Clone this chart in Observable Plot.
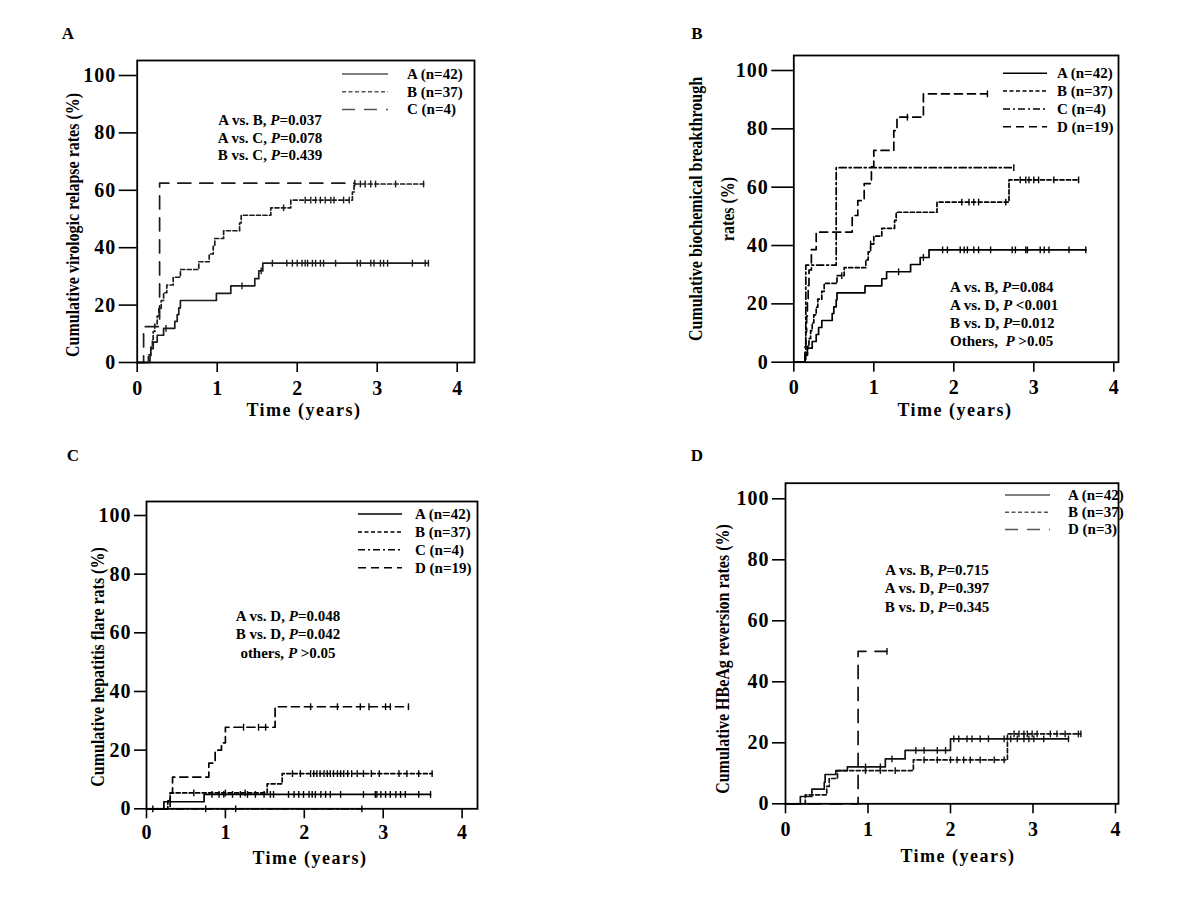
<!DOCTYPE html>
<html><head><meta charset="utf-8">
<script src="https://cdn.jsdelivr.net/npm/d3@7"></script>
<script src="https://cdn.jsdelivr.net/npm/@observablehq/plot@0.6"></script>
<style>
body{margin:0;background:#fff;}
#root{position:relative;width:1200px;height:900px;overflow:hidden;background:#fff;}
#root svg{position:absolute;overflow:visible;}
</style></head><body><div id="root"></div>
<script>
// ---------- shared tick values ----------
const yTicks = [0, 20, 40, 60, 80, 100];
const xTicks = [0, 1, 2, 3, 4];
const xTitle = "Time (years)";

// ---------- Panel A: virologic relapse ----------
const vrTag = "A";
const vrYLabel = ["Cumulative virologic relapse rates (%)"];
const vrNames = ["A (n=42)", "B (n=37)", "C (n=4)"];
const vrA = [[0.16,2.4],[0.17,4.8],[0.2,7.1],[0.25,9.5],[0.33,11.9],[0.47,14.3],[0.5,16.7],[0.52,19.0],[0.54,21.6],[0.99,24.1],[1.17,26.7],[1.47,29.2],[1.52,31.9],[1.57,34.6]];
const vrAcens = [0.36,1.31,1.55,1.69,1.87,1.94,2.0,2.06,2.1,2.13,2.19,2.23,2.29,2.33,2.48,2.75,2.79,2.92,2.96,3.04,3.08,3.13,3.44,3.6,3.64];
const vrB = [[0.14,2.7],[0.17,5.4],[0.19,8.1],[0.2,10.8],[0.22,13.5],[0.25,16.2],[0.27,18.9],[0.3,21.6],[0.33,24.3],[0.37,27.0],[0.45,29.7],[0.54,32.4],[0.77,35.1],[0.9,37.8],[0.95,40.5],[0.97,43.2],[1.08,45.9],[1.28,48.6],[1.3,51.3],[1.67,53.9],[1.92,56.6],[2.69,59.4],[2.71,62.2]];
const vrBcens = [1.83,2.1,2.17,2.23,2.29,2.35,2.42,2.46,2.58,2.65,2.79,2.85,2.92,2.98,3.23,3.58];
const vrC = [[0.08,12.5],[0.28,62.5]];
const vrCcens = [2.72];
const vrNotes = ["A vs. B, P=0.037", "A vs. C, P=0.078", "B vs. C, P=0.439"];

// ---------- Panel B: biochemical breakthrough ----------
const bbTag = "B";
const bbYLabel = ["Cumulative biochemical breakthrough", "rates (%)"];
const bbNames = ["A (n=42)", "B (n=37)", "C (n=4)", "D (n=19)"];
const bbA = [[0.14,2.4],[0.17,4.8],[0.23,7.1],[0.28,9.5],[0.31,11.9],[0.35,14.3],[0.48,16.7],[0.5,19.0],[0.53,21.4],[0.54,23.8],[0.89,26.2],[1.1,28.6],[1.16,31.0],[1.46,33.5],[1.58,35.9],[1.69,38.5]];
const bbAcens = [1.31,1.62,1.86,1.92,2.08,2.13,2.17,2.25,2.31,2.46,2.73,2.77,2.9,2.92,3.08,3.13,3.19,3.44,3.65];
const bbB = [[0.14,2.7],[0.17,5.4],[0.19,8.1],[0.21,10.8],[0.23,13.5],[0.25,16.2],[0.28,18.9],[0.3,21.6],[0.35,24.3],[0.38,27.0],[0.54,29.7],[0.63,32.4],[0.9,35.1],[0.93,37.8],[0.96,40.5],[1.0,43.2],[1.1,45.9],[1.26,48.6],[1.28,51.4],[1.79,54.9],[2.69,62.5]];
const bbBcens = [0.6,0.96,2.1,2.19,2.25,2.31,2.65,2.83,2.9,2.94,3.0,3.06,3.25,3.56];
const bbC = [[0.15,33.3],[0.53,66.7]];
const bbCcens = [2.75];
const bbD = [[0.14,5.3],[0.15,10.5],[0.16,15.8],[0.17,21.1],[0.18,26.3],[0.19,31.6],[0.22,38.6],[0.28,44.6],[0.73,50.3],[0.8,55.4],[0.88,61.2],[0.97,67.0],[1.0,72.6],[1.25,79.4],[1.29,84.0],[1.62,92.0]];
const bbDcens = [1.42,2.42];
const bbNotes = ["A vs. B, P=0.084", "A vs. D, P <0.001", "B vs. D, P=0.012", "Others,  P >0.05"];

// ---------- Panel C: hepatitis flare ----------
const hfTag = "C";
const hfYLabel = ["Cumulative hepatitis flare rats (%)"];
const hfNames = ["A (n=42)", "B (n=37)", "C (n=4)", "D (n=19)"];
const hfA = [[0.22,2.4],[0.73,4.9]];
const hfAcens = [0.83,0.92,0.98,1.09,1.19,1.28,1.38,1.49,1.57,1.61,1.8,1.87,1.93,1.99,2.06,2.1,2.14,2.21,2.27,2.33,2.46,2.75,2.9,2.92,2.97,3.03,3.09,3.16,3.22,3.28,3.45,3.6];
const hfB = [[0.27,2.7],[0.3,5.4],[1.53,8.5],[1.72,12.0]];
const hfBcens = [0.6,1.0,1.25,1.85,1.95,2.08,2.12,2.16,2.2,2.25,2.29,2.33,2.37,2.42,2.46,2.5,2.55,2.6,2.67,2.75,2.85,2.95,3.2,3.3,3.45,3.62];
const hfC = [];
const hfCcens = [0.08,0.75,1.13,2.73];
const hfD = [[0.3,5.3],[0.33,10.8],[0.79,15.6],[0.87,20.0],[0.95,22.5],[1.0,27.8],[1.63,34.8]];
const hfDcens = [1.23,1.42,1.51,2.08,2.42,2.71,2.82,3.03,3.09,3.32];
const hfNotes = ["A vs. D, P=0.048", "B vs. D, P=0.042", "others, P >0.05"];

// ---------- Panel D: HBeAg reversion ----------
const hrTag = "D";
const hrYLabel = ["Cumulative HBeAg reversion rates (%)"];
const hrNames = ["A (n=42)", "B (n=37)", "D (n=3)"];
const hrA = [[0.18,2.4],[0.32,4.8],[0.47,7.1],[0.48,9.6],[0.61,10.9],[0.75,12.1],[1.21,14.7],[1.45,17.5],[2.0,21.3]];
const hrAcens = [0.97,1.15,1.29,1.58,1.68,1.84,1.94,2.04,2.1,2.2,2.26,2.36,2.46,2.65,2.73,2.81,2.89,2.95,3.01,3.13,3.43];
const hrB = [[0.24,2.9],[0.5,5.7],[0.53,8.3],[0.63,10.9],[1.55,14.4],[2.69,22.9]];
const hrBcens = [0.97,1.15,1.33,1.68,1.84,2.0,2.08,2.16,2.24,2.36,2.53,2.65,2.77,2.83,2.89,2.93,2.99,3.05,3.21,3.29,3.39,3.55,3.58];
const hrD = [[0.88,50.0]];
const hrDcens = [1.23];
const hrNotes = ["A vs. B, P=0.715", "A vs. D, P=0.397", "B vs. D, P=0.345"];

// ---------- styles ----------
const SOLID = null, SHORT = "4,2.5", DASHDOT = "7,3,2,3", MED = "8,5", LONG = "13,9";
const FONT = "'Liberation Serif','Times New Roman',serif";

const panels = [
  {ox:0, oy:0, L:136.7, R:474, T:60, B:362, pxX:80, pxY:2.87, ytick:18, xpad:8,
   tag:vrTag, tagPos:[68,33], ylab:vrYLabel, ylabX:[72], ylabY:225, xlabPos:[304,410],
   color:"#1c1c1c", legColor:"#555",
   series:[{name:vrNames[0],ev:vrA,cs:vrAcens,dash:SOLID},{name:vrNames[1],ev:vrB,cs:vrBcens,dash:SHORT},{name:vrNames[2],ev:vrC,cs:vrCcens,dash:LONG}],
   leg:{x1:342,x2:388,tx:407,y0:74,dy:17.7}, notes:vrNotes, notePos:{x:270,y0:120,dy:17.5,anchor:"middle"}},
  {ox:600, oy:0, L:793.3, R:1118, T:55, B:361.7, pxX:80, pxY:2.917, ytick:22, xpad:8,
   tag:bbTag, tagPos:[697,33], ylab:bbYLabel, ylabX:[695,727], ylabY:209, xlabPos:[955,410],
   color:"#000", legColor:"#000",
   series:[{name:bbNames[0],ev:bbA,cs:bbAcens,dash:SOLID},{name:bbNames[1],ev:bbB,cs:bbBcens,dash:SHORT},{name:bbNames[2],ev:bbC,cs:bbCcens,dash:DASHDOT},{name:bbNames[3],ev:bbD,cs:bbDcens,dash:MED}],
   leg:{x1:1003,x2:1047,tx:1057,y0:73.3,dy:17.8}, notes:bbNotes, notePos:{x:950,y0:287.3,dy:17.8,anchor:"start"}},
  {ox:0, oy:450, L:146, R:477, T:501, B:808.3, pxX:78.9, pxY:2.933, ytick:12, xpad:5.5,
   tag:hfTag, tagPos:[73,455], ylab:hfYLabel, ylabX:[97], ylabY:667, xlabPos:[310,858],
   color:"#000", legColor:"#000",
   series:[{name:hfNames[0],ev:hfA,cs:hfAcens,dash:SOLID},{name:hfNames[1],ev:hfB,cs:hfBcens,dash:SHORT},{name:hfNames[2],ev:hfC,cs:hfCcens,dash:DASHDOT},{name:hfNames[3],ev:hfD,cs:hfDcens,dash:MED}],
   leg:{x1:358,x2:402,tx:415,y0:514,dy:17.9}, notes:hfNotes, notePos:{x:288,y0:616,dy:18.3,anchor:"middle"}},
  {ox:600, oy:450, L:785, R:1118, T:482.7, B:803.3, pxX:82.5, pxY:3.05, ytick:13, xpad:8,
   tag:hrTag, tagPos:[697,455], ylab:hrYLabel, ylabX:[722], ylabY:659, xlabPos:[958,856],
   color:"#111", legColor:"#555",
   series:[{name:hrNames[0],ev:hrA,cs:hrAcens,dash:SOLID},{name:hrNames[1],ev:hrB,cs:hrBcens,dash:SHORT},{name:hrNames[2],ev:hrD,cs:hrDcens,dash:LONG}],
   leg:{x1:1005,x2:1050,tx:1068,y0:495,dy:17.2}, notes:hrNotes, notePos:{x:937,y0:570,dy:18.3,anchor:"middle"}}
];

function stepData(ev, cs){
  const end = Math.max(0, ...cs, ...ev.map(e => e[0]));
  const pts = [[0,0], ...ev];
  pts.push([end, pts[pts.length-1][1]]);
  return pts;
}
function valueAt(ev, t){ let v = 0; for (const [x,y] of ev) if (x <= t) v = y; return v; }
const tickSymbol = {draw(ctx, size){ const h = Math.sqrt(size/Math.PI); ctx.moveTo(0,-h); ctx.lineTo(0,h); }};

const root = document.getElementById("root");

for (const p of panels){
  const W = 600, H = 450;
  const marks = [];
  for (const s of p.series){
    marks.push(Plot.line(stepData(s.ev, s.cs), {x: d=>d[0], y: d=>d[1], curve:"step-after",
      stroke:p.color, strokeWidth:1.7, strokeDasharray: s.dash || undefined}));
    marks.push(Plot.dot(s.cs, {x: d=>d, y: d=>valueAt(s.ev, d), symbol: tickSymbol, r:3.4,
      stroke:p.color, strokeWidth:1.4, fill:"none"}));
  }
  marks.push(Plot.frame({stroke:"#000", strokeWidth:1.8}));
  marks.push(Plot.axisY({ticks:yTicks, tickSize:p.ytick, tickPadding:3, label:null, fontSize:20, fontWeight:"bold", strokeWidth:1.6}));
  marks.push(Plot.axisX({ticks:xTicks, tickSize:10, tickPadding:p.xpad, label:null, fontSize:20, fontWeight:"bold", strokeWidth:1.6, tickFormat:d=>String(d)}));

  const svg = Plot.plot({
    width: W, height: H,
    marginLeft: p.L - p.ox, marginRight: p.ox + W - p.R,
    marginTop: p.T - p.oy, marginBottom: p.oy + H - p.B,
    x: {domain:[0, (p.R - p.L)/p.pxX]},
    y: {domain:[0, (p.B - p.T)/p.pxY]},
    style: {fontFamily: FONT, fontSize:"18px", fontWeight:"bold", color:"#000", background:"transparent", overflow:"visible"},
    marks
  });
  svg.style.left = p.ox + "px";
  svg.style.top = p.oy + "px";
  root.appendChild(svg);

  // widen y tick labels slightly (the reference glyphs are horizontally stretched)
  d3.select(svg).selectAll("g[aria-label='y-axis tick label'] text").attr("letter-spacing","1px");

  const g = d3.select(svg).append("g").attr("transform", `translate(${-p.ox},${-p.oy})`)
    .attr("font-family", FONT).attr("fill", "#000").attr("text-anchor","start");

  // panel tag
  g.append("text").attr("x", p.tagPos[0]).attr("y", p.tagPos[1]).attr("text-anchor","middle")
    .attr("dominant-baseline","central").attr("font-size",17).attr("font-weight","bold").text(p.tag);

  // y label(s)
  p.ylab.forEach((t,i) => {
    const cx = p.ylabX[i], cy = p.ylabY;
    g.append("text").attr("transform", `translate(${cx},${cy}) rotate(-90) scale(1,1.2)`)
      .attr("text-anchor","middle").attr("dominant-baseline","central")
      .attr("font-size",16).attr("font-weight","bold").text(t);
  });

  // x label
  g.append("text").attr("x", p.xlabPos[0]).attr("y", p.xlabPos[1]).attr("text-anchor","middle")
    .attr("dominant-baseline","central").attr("font-size",18).attr("font-weight","bold")
    .attr("letter-spacing","1.5px").text(xTitle);

  // legend
  p.series.forEach((s,i) => {
    const y = p.leg.y0 + i*p.leg.dy;
    g.append("line").attr("x1",p.leg.x1).attr("x2",p.leg.x2).attr("y1",y).attr("y2",y)
      .attr("stroke",p.legColor).attr("stroke-width",1.5).attr("stroke-dasharray", s.dash || null);
    g.append("text").attr("x",p.leg.tx).attr("y",y).attr("dominant-baseline","central")
      .attr("text-anchor","start").attr("font-size",15).attr("font-weight","bold").text(s.name);
  });

  // annotations
  p.notes.forEach((t,i) => {
    const y = p.notePos.y0 + i*p.notePos.dy;
    const txt = g.append("text").attr("x",p.notePos.x).attr("y",y).attr("text-anchor",p.notePos.anchor)
      .attr("dominant-baseline","central").attr("font-size",15).attr("font-weight","bold")
      .attr("xml:space","preserve").style("white-space","pre");
    const parts = t.split(/(P)(?=\s?[=<>])/);
    parts.forEach(part => {
      const ts = txt.append("tspan").text(part);
      if (part === "P") ts.attr("font-style","italic");
    });
  });
}
</script>
</body></html>
